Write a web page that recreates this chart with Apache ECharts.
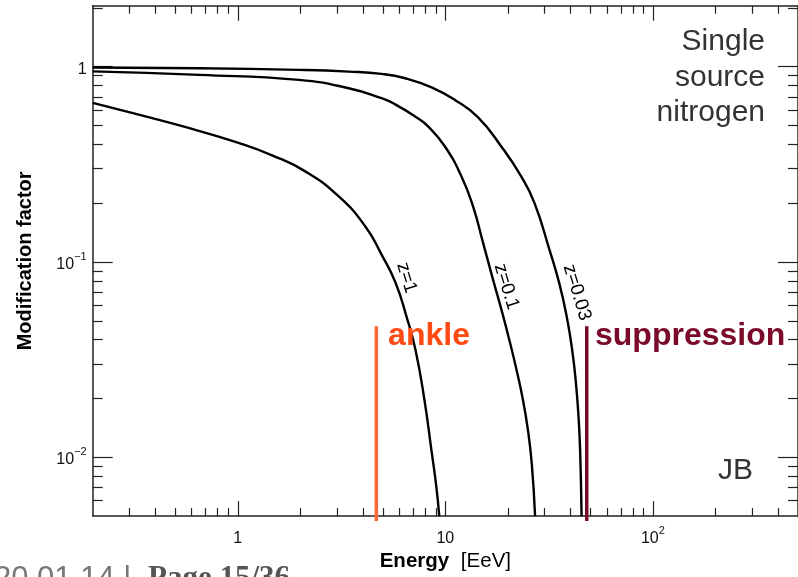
<!DOCTYPE html>
<html>
<head>
<meta charset="utf-8">
<script src="https://cdn.jsdelivr.net/npm/echarts@6/dist/echarts.min.js"></script>
<style>
html,body{margin:0;padding:0;background:#fff;}
#chart{width:798px;height:577px;}
</style>
</head>
<body>
<div id="chart"></div>
<script>
// ---- data ----
const energyZ1 = [0.2,0.337,0.585,1.017,1.463,2.123,3.066,4.118,4.929,5.752,6.494,7.173,7.922,8.558,9.044,9.35];
const factorZ1 = [0.652,0.566,0.484,0.406,0.3516,0.290,0.2164,0.152,0.109,0.0784,0.0527,0.0356,0.0198,0.01098,0.0071,0.00499];

const energyZ01 = [0.2,0.654,1.971,3.424,4.929,5.733,7.15,8.28,9.955,11.96,13.61,15.19,16.97,18.74,20.48,22.12,23.63,24.97,26.1,27.06];
const factorZ01 = [0.945,0.907,0.855,0.775,0.689,0.641,0.555,0.493,0.390,0.274,0.1917,0.1255,0.0812,0.0557,0.0387,0.02749,0.01977,0.01389,0.0092,0.00499];

const energyZ003 = [0.2,0.654,1.971,3.424,4.929,6.402,8.585,11.12,14.38,18.6,23.19,26.89,31.72,35.35,38.41,40.81,42.56,43.79,44.58,45.33];
const factorZ003 = [0.99,0.981,0.962,0.943,0.918,0.872,0.783,0.675,0.550,0.390,0.274,0.200,0.1156,0.0781,0.0527,0.0356,0.02406,0.01624,0.01098,0.00499];

const curveNames = ['z=1','z=0.1','z=0.03'];
const curveLabelPos = [[6.5,0.083],[19.7,0.0747],[43.1,0.0698]];

const ankleEnergy = 4.65;
const suppressionEnergy = 48;
const markerRange = [0.00472, 0.0469];
const markerLabelFactor = 0.0415;
const ankleLabelEnergy = 5.3;
const suppressionLabelEnergy = 52.6;

const xRange = [0.2, 500];
const yRange = [0.005, 2.05];
const xMajor = [1, 10, 100];
const xMinor = [0.3,0.4,0.5,0.6,0.7,0.8,0.9,2,3,4,5,6,7,8,9,20,30,40,50,60,70,80,90,200,300,400];
const yMajor = [0.01, 0.1, 1];
const yMinor = [0.006,0.007,0.008,0.009,0.02,0.03,0.04,0.05,0.06,0.07,0.08,0.09,0.2,0.3,0.4,0.5,0.6,0.7,0.8,0.9,2];

// ---- build chart ----
const zip = (a, b) => a.map((v, i) => [v, b[i]]);
const axisColor = '#222';
const FONT = 'Liberation Sans, Arial, sans-serif';

function xLabelFmt(v) {
  if (Math.abs(v - 1) < 1e-9) return '{n|1}';
  if (Math.abs(v - 10) < 1e-9) return '{n|10}';
  if (Math.abs(v - 100) < 1e-9) return '{n|10}{s|2}';
  return '';
}
function yLabelFmt(v) {
  if (Math.abs(v - 1) < 1e-9) return '{n|1}';
  if (Math.abs(v - 0.1) < 1e-9) return '{n|10}{s|\u22121}';
  if (Math.abs(v - 0.01) < 1e-9) return '{n|10}{s|\u22122}';
  return '';
}
const richLbl = {
  n: {fontSize: 16, fontFamily: FONT, color: '#111', lineHeight: 21, verticalAlign: 'bottom'},
  s: {fontSize: 11, fontFamily: FONT, color: '#111', lineHeight: 21, verticalAlign: 'top'}
};

function mkX(pos, ticks, len, showLine, label, extra) {
  return Object.assign({
    type: 'log', logBase: 10, position: pos, min: xRange[0], max: xRange[1],
    axisLine: {show: showLine, onZero: false, lineStyle: {color: axisColor, width: 1.5}},
    axisTick: {show: true, inside: true, length: len, customValues: ticks, lineStyle: {color: axisColor, width: 1.2}},
    axisLabel: label ? {show: true, customValues: xMajor, formatter: xLabelFmt, rich: richLbl, margin: 9} : {show: false},
    splitLine: {show: false}, minorTick: {show: false}
  }, extra || {});
}
function mkY(pos, ticks, len, showLine, label, extra) {
  return Object.assign({
    type: 'log', logBase: 10, position: pos, min: yRange[0], max: yRange[1],
    axisLine: {show: showLine, onZero: false, lineStyle: {color: axisColor, width: 1.5}},
    axisTick: {show: true, inside: true, length: len, customValues: ticks, lineStyle: {color: axisColor, width: 1.2}},
    axisLabel: label ? {show: true, customValues: yMajor, formatter: yLabelFmt, rich: richLbl, margin: 6} : {show: false},
    splitLine: {show: false}, minorTick: {show: false}
  }, extra || {});
}

const chart = echarts.init(document.getElementById('chart'), null, {renderer: 'canvas'});

const curves = [zip(energyZ1, factorZ1), zip(energyZ01, factorZ01), zip(energyZ003, factorZ003)];

const series = curves.map((d, i) => ({
  type: 'line', name: curveNames[i], data: d, showSymbol: false, symbol: 'none',
  smooth: 0.5,
  lineStyle: {color: '#000', width: 2.4}, xAxisIndex: 0, yAxisIndex: 0, z: 3, silent: true
}));

series.push({
  type: 'scatter', xAxisIndex: 0, yAxisIndex: 0, symbolSize: 0, silent: true, z: 4,
  itemStyle: {opacity: 1},
  data: curveLabelPos.map((p, i) => ({value: p, name: curveNames[i]})),
  label: {show: true, position: 'inside', formatter: '{b}', rotate: -73, opacity: 1,
    fontSize: 19, fontFamily: FONT, color: '#000'}
});

series.push({
  type: 'line', xAxisIndex: 0, yAxisIndex: 0, showSymbol: false, symbol: 'none', clip: false, silent: true,
  data: [[ankleEnergy, markerRange[0]], [ankleEnergy, markerRange[1]]],
  lineStyle: {color: '#ff6633', width: 3.5}, z: 2
});
series.push({
  type: 'line', xAxisIndex: 0, yAxisIndex: 0, showSymbol: false, symbol: 'none', clip: false, silent: true,
  data: [[suppressionEnergy, markerRange[0]], [suppressionEnergy, markerRange[1]]],
  lineStyle: {color: '#7a0a2a', width: 3.5}, z: 2
});
series.push({
  type: 'scatter', xAxisIndex: 0, yAxisIndex: 0, symbolSize: 0, silent: true, z: 5,
  itemStyle: {opacity: 1},
  data: [
    {value: [ankleLabelEnergy, markerLabelFactor], name: 'ankle', label: {color: '#ff4a14'}},
    {value: [suppressionLabelEnergy, markerLabelFactor], name: 'suppression', label: {color: '#7a0a2a'}}
  ],
  label: {show: true, position: 'right', distance: 0, formatter: '{b}', align: 'left', verticalAlign: 'middle',
    opacity: 1, fontSize: 32, fontWeight: 'bold', fontFamily: FONT}
});

const option = {
  animation: false,
  backgroundColor: '#fff',
  grid: {left: 92.7, top: 5.7, width: 708.8, height: 511, containLabel: false},
  xAxis: [
    mkX('bottom', xMajor, 15, true, true, {
      name: '{b|Energy}  {r|[EeV]}', nameLocation: 'middle', nameGap: 33,
      nameTextStyle: {rich: {b: {fontSize: 20.5, fontWeight: 'bold', fontFamily: FONT, color: '#000'},
                              r: {fontSize: 20.5, fontFamily: FONT, color: '#000', padding: [0,0,0,5]}}}
    }),
    mkX('bottom', xMinor, 8, false, false),
    mkX('top', xMajor, 15, true, false),
    mkX('top', xMinor, 8, false, false)
  ],
  yAxis: [
    mkY('left', yMajor, 20, true, true, {
      name: 'Modification factor', nameLocation: 'middle', nameGap: 57, nameRotate: 90,
      nameTextStyle: {fontSize: 20, fontWeight: 'bold', fontFamily: FONT, color: '#000'}
    }),
    mkY('left', yMinor, 10, false, false),
    mkY('right', yMajor, 20, true, false),
    mkY('right', yMinor, 10, false, false)
  ],
  series: series,
  graphic: [
    {type: 'text', x: 765, y: 24, z: 10, silent: true,
     style: {text: 'Single\nsource\nnitrogen', font: '30px ' + FONT, fill: '#333', align: 'right',
             verticalAlign: 'top', lineHeight: 35.5}},
    {type: 'text', x: 753, y: 471, z: 10, silent: true,
     style: {text: 'JB', font: '30px ' + FONT, fill: '#333', align: 'right', verticalAlign: 'middle'}},
    {type: 'text', x: -6, y: 579, z: 10, silent: true,
     style: {text: '20.01.14 |', font: '31px ' + FONT, fill: '#777', align: 'left', verticalAlign: 'middle'}},
    {type: 'text', x: 148, y: 579, z: 10, silent: true,
     style: {text: 'Page 15/36', font: 'bold 31px "Liberation Serif", serif', fill: '#555', align: 'left', verticalAlign: 'middle'}}
  ]
};
chart.setOption(option);
</script>
</body>
</html>
